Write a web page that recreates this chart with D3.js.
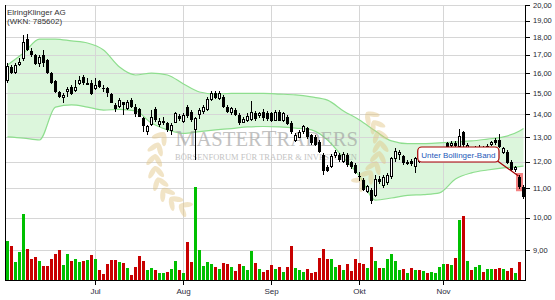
<!DOCTYPE html>
<meta charset="utf-8">
<style>
body { margin: 0; background: #fff; }
svg { display: block; font-family: "Liberation Sans", Arial, sans-serif; }
.grid line { stroke: #d6d6d6; stroke-width: 1px; shape-rendering: crispEdges; }
.frame line { stroke: #000; stroke-width: 1px; shape-rendering: crispEdges; }
.wick { stroke: #000; stroke-width: 1px; shape-rendering: crispEdges; }
.tick-label { font-size: 7.5px; fill: #1e1e2e; }
.month-label { font-size: 8px; fill: #2a2a3a; }
.title { font-size: 8px; fill: #333; }
.mark { font-family: "Liberation Serif", "DejaVu Serif", serif; fill: #9a9a9a; opacity: 0.6; }
</style>
<svg width="555" height="300"></svg>
<script src="https://cdn.jsdelivr.net/npm/d3@7/dist/d3.min.js"></script>
<script>

// daily candles, June - November
var priceOpen = [15.60,16.33,16.01,16.47,16.76,17.88,17.23,16.97,16.50,16.99,
  16.72,16.01,15.62,15.06,14.76,15.06,15.33,15.12,15.46,15.83,
  15.51,15.51,15.20,15.62,15.24,15.24,14.95,14.44,14.36,14.56,
  14.26,14.67,14.36,14.23,13.82,13.20,13.52,14.23,13.52,13.67,
  13.60,13.28,13.63,13.93,13.68,14.36,14.13,13.31,13.96,14.10,
  14.20,14.67,15.00,14.70,14.84,14.36,14.05,14.20,13.98,13.63,
  13.72,13.75,14.05,13.93,14.12,14.07,14.05,13.72,14.12,13.72,
  13.90,13.63,12.85,12.98,13.20,13.39,13.09,13.02,12.81,12.27,
  11.81,11.78,12.21,12.27,12.00,12.27,11.97,11.87,11.44,11.31,
  10.88,10.94,10.74,11.36,11.09,11.19,11.40,12.10,12.26,12.21,
  11.94,12.04,11.81,12.10,12.05,12.15,12.05,12.10,12.10,12.25,
  12.74,12.62,12.74,12.60,13.20,12.55,12.50,12.45,12.50,12.60,
  12.50,12.68,12.88,12.90,12.33,12.40,12.00,11.68,11.43,11.06];

var priceHigh = [16.56,16.45,16.54,16.81,18.12,18.20,17.37,17.04,16.99,17.27,
  16.77,16.08,15.66,15.11,15.00,15.29,15.41,15.66,15.86,15.92,
  15.76,15.66,15.75,15.66,15.41,15.29,15.01,14.52,14.75,14.60,
  14.67,14.76,14.48,14.29,13.90,13.53,14.20,14.33,13.84,13.87,
  13.67,13.60,14.12,14.03,14.07,14.44,14.20,13.90,14.28,14.44,
  14.82,15.09,15.09,15.11,14.92,14.44,14.34,14.28,14.07,13.89,
  14.05,14.64,14.15,14.11,14.25,14.15,14.12,14.20,14.20,14.12,
  13.98,13.70,13.18,13.31,13.53,13.44,13.13,13.09,12.88,12.35,
  11.87,12.31,12.47,12.35,12.39,12.35,12.03,11.95,11.61,11.38,
  11.12,11.01,11.49,11.45,11.49,11.57,12.20,12.55,12.47,12.27,
  12.07,12.11,12.19,12.20,12.25,12.25,12.30,12.30,12.40,12.55,
  12.80,12.85,12.84,13.36,13.25,12.75,12.60,12.65,12.68,12.65,
  12.70,12.84,12.96,13.13,12.60,12.45,12.07,11.84,11.49,11.12];

var priceLow = [15.51,15.97,15.97,16.40,16.68,17.20,16.90,16.45,16.36,16.33,
  15.97,15.46,15.00,14.77,14.51,14.83,14.92,15.06,15.41,15.41,
  15.41,14.92,15.16,15.24,15.08,14.83,14.53,14.12,14.28,13.98,
  14.20,14.28,13.90,13.86,13.24,13.09,13.46,13.68,13.44,13.53,
  13.24,13.09,13.60,13.71,13.62,13.84,13.68,12.07,13.80,14.03,
  14.16,14.64,14.70,14.67,14.30,14.08,13.98,13.91,13.53,13.60,
  13.66,13.71,13.71,13.84,13.71,13.71,13.66,13.71,13.71,13.68,
  13.53,13.13,12.80,12.96,13.13,12.92,12.67,12.63,12.35,11.49,
  11.61,11.76,12.15,12.00,11.95,11.79,11.72,11.53,11.27,10.90,
  10.84,10.45,10.70,11.16,11.01,11.12,11.35,12.00,12.07,11.87,
  11.87,11.82,11.56,11.95,11.98,11.98,12.00,12.02,12.05,12.20,
  12.55,12.55,12.55,12.55,12.60,12.45,12.35,12.38,12.42,12.40,
  12.45,12.62,12.68,12.54,12.30,11.90,11.64,11.61,10.97,10.64];

var priceClose = [16.40,16.01,16.45,16.61,17.73,17.27,16.97,16.49,16.86,16.58,
  16.01,15.52,15.08,14.80,14.91,15.19,14.96,15.33,15.66,15.49,
  15.53,14.96,15.41,15.29,15.22,14.99,14.55,14.24,14.67,14.44,
  14.59,14.36,14.00,13.90,13.46,13.46,13.87,13.75,13.72,13.69,
  13.31,13.53,14.08,13.78,13.98,13.93,13.75,13.82,14.20,14.36,
  14.70,15.00,14.75,15.03,14.36,14.13,14.28,13.98,13.60,13.78,
  13.93,14.12,13.78,14.05,13.83,13.78,13.72,14.12,13.72,14.05,
  13.57,13.20,13.09,13.23,13.46,13.00,12.74,12.67,12.40,11.65,
  11.66,12.23,12.37,12.05,12.31,11.87,11.79,11.58,11.42,10.94,
  11.09,10.57,11.33,11.24,11.43,11.49,12.14,12.41,12.40,11.94,
  12.00,11.91,12.14,12.00,12.15,12.05,12.20,12.20,12.30,12.45,
  12.60,12.76,12.62,13.05,12.67,12.67,12.45,12.55,12.60,12.50,
  12.62,12.78,12.74,12.58,12.53,11.94,11.68,11.78,11.06,10.71];

// volume in thousand shares (last day has none yet)
var volume = [390,340,180,280,660,310,210,230,190,140,
  140,210,260,300,150,260,190,210,180,190,
  200,250,210,100,60,160,200,200,180,170,
  120,50,130,240,190,100,120,100,70,70,
  80,110,190,100,70,380,180,930,300,140,
  180,160,130,110,170,160,130,90,160,140,
  100,290,170,110,80,100,150,110,130,80,
  130,340,120,100,80,110,70,80,220,310,
  210,210,130,150,100,160,90,210,170,160,
  120,330,190,120,120,210,260,190,100,110,
  70,120,100,100,90,70,80,70,130,160,
  160,150,220,600,640,190,100,130,150,80,
  110,110,110,120,110,90,120,70,180];

// bollinger band (20 days) read at every 4th session
var bandIdx = [0,4,8,12,16,20,24,28,32,36,40,44,48,52,56,60,64,68,72,76,80,84,88,92,96,100,104,108,112,116,120,124,128,129];
var bandUpper = [16.45,17.10,17.90,17.90,17.79,17.67,17.27,16.34,15.92,16.02,15.92,15.46,15.06,14.96,14.99,14.99,14.99,14.96,14.92,14.82,14.67,14.16,13.75,13.26,12.84,12.73,12.73,12.76,12.80,12.84,12.92,13.01,13.26,13.37];
var bandLower = [13.01,12.96,12.88,14.34,14.44,14.34,14.20,14.23,14.16,13.61,13.31,13.16,13.24,13.31,13.37,13.44,13.46,13.44,13.39,13.31,12.88,12.15,11.45,10.59,10.66,10.75,10.78,10.84,11.34,11.57,11.68,11.76,11.81,11.83];

var monthIdx = [22, 44, 66, 88, 109];
var monthNames = ["Jul", "Aug", "Sep", "Okt", "Nov"];
var priceTicks = [9, 10, 11, 12, 13, 14, 15, 16, 17, 18, 19, 20];

var signalIdx = 128;
var signalText = "Unter Bollinger-Band";

var svg = d3.select("svg"),
    pLeft = 5, pRight = 525, pTop = 5, pBottom = 280;

var n = priceClose.length;
var x = d3.scaleLinear().domain([0, n - 1]).range([pLeft + 2.5, pRight - 1.5]);
var y = d3.scaleLog().domain([8.16, 20]).range([pBottom, pTop]);
var yVol = d3.scaleLinear().domain([0, 1000]).range([pBottom, pBottom - 100]);

var formatPrice = function(d) { return d3.format(".2f")(d).replace(".", ","); };
var py = function(v) { return Math.round(y(v)) + 0.5; };
var isUp = function(i) { return priceClose[i] >= priceOpen[i]; };

// bollinger fill
var band = bandIdx.map(function(d, i) { return {i: d, u: bandUpper[i], l: bandLower[i]}; });

svg.append("path")
    .datum(band)
    .attr("fill", "#dcf6dc")
    .attr("d", d3.area()
      .curve(d3.curveMonotoneX)
      .x(function(d) { return x(d.i); })
      .y0(function(d) { return y(d.l); })
      .y1(function(d) { return y(d.u); }));

// grid
var grid = svg.append("g").attr("class", "grid");
grid.selectAll(".h")
    .data(priceTicks)
  .enter().append("line")
    .attr("x1", pLeft).attr("x2", pRight)
    .attr("y1", py).attr("y2", py);
grid.selectAll(".v")
    .data(monthIdx)
  .enter().append("line")
    .attr("x1", function(d) { return Math.floor(x(d)) + 0.5; })
    .attr("x2", function(d) { return Math.floor(x(d)) + 0.5; })
    .attr("y1", pTop).attr("y2", pBottom);

// band edges
["u", "l"].forEach(function(k) {
  svg.append("path")
      .datum(band)
      .attr("fill", "none")
      .attr("stroke", "#8ede8e")
      .attr("stroke-width", 1.2)
      .attr("d", d3.line()
        .curve(d3.curveMonotoneX)
        .x(function(d) { return x(d.i); })
        .y(function(d) { return y(d[k]); }));
});

// watermark
function laurel(cx, cy, r, a0, a1, side) {
  var g = svg.append("g").attr("fill", "#e2c483").attr("opacity", 0.45);
  for (var k = 0; k <= 7; k++) {
    var a = (a0 + (a1 - a0) * k / 7) * Math.PI / 180,
        lx = cx + r * Math.cos(a), ly = cy + r * Math.sin(a),
        deg = a * 180 / Math.PI + 90 * side;
    [-35, 35].forEach(function(off) {
      g.append("ellipse")
          .attr("rx", 7).attr("ry", 2.6)
          .attr("transform", "translate(" + lx + "," + ly + ") rotate(" + (deg + off) + ") translate(6,0)");
    });
  }
}
laurel(205, 162, 50, 120, 215, -1);
laurel(335, 145, 45, 50, -45, 1);

var mark = svg.append("text").attr("class", "mark")
    .attr("x", 175).attr("y", 146)
    .attr("textLength", 183).attr("lengthAdjust", "spacingAndGlyphs");
mark.append("tspan").style("font-size", "24px").text("M");
mark.append("tspan").style("font-size", "20.5px").text("ASTER");
mark.append("tspan").style("font-size", "24px").text("T");
mark.append("tspan").style("font-size", "20.5px").text("RADERS");
svg.append("text").attr("class", "mark")
    .attr("x", 175).attr("y", 160)
    .style("font-size", "8.5px")
    .attr("textLength", 182).attr("lengthAdjust", "spacingAndGlyphs")
    .text("BÖRSENFORUM FÜR TRADER & INVESTOREN");

// volume
svg.selectAll(".vol")
    .data(volume)
  .enter().append("rect")
    .attr("x", function(d, i) { return x(i) - 1.5; })
    .attr("y", function(d) { return Math.round(yVol(d)); })
    .attr("width", 3)
    .attr("height", function(d) { return pBottom - Math.round(yVol(d)); })
    .attr("fill", function(d, i) { return isUp(i) ? "#00c000" : "#c80000"; });

// signal highlight
svg.append("rect")
    .attr("x", x(signalIdx) - 3.5)
    .attr("y", y(priceHigh[signalIdx]) - 2)
    .attr("width", 7)
    .attr("height", y(priceLow[signalIdx]) - y(priceHigh[signalIdx]) + 4)
    .attr("fill", "#f05a5a")
    .attr("opacity", 0.75);

// candles
var c = svg.selectAll(".candle")
    .data(priceClose)
  .enter().append("g");

c.append("line")
    .attr("class", "wick")
    .attr("x1", function(d, i) { return x(i); })
    .attr("x2", function(d, i) { return x(i); })
    .attr("y1", function(d, i) { return Math.round(y(priceHigh[i])); })
    .attr("y2", function(d, i) { return Math.round(y(priceLow[i])); });

c.append("rect")
    .attr("x", function(d, i) { return isUp(i) ? x(i) - 1 : x(i) - 1.5; })
    .attr("y", function(d, i) {
      var t = Math.round(y(Math.max(d, priceOpen[i])));
      return isUp(i) ? t + 0.5 : t;
    })
    .attr("width", function(d, i) { return isUp(i) ? 2 : 3; })
    .attr("height", function(d, i) {
      var h = Math.round(y(Math.min(d, priceOpen[i]))) - Math.round(y(Math.max(d, priceOpen[i])));
      return isUp(i) ? Math.max(h - 1, 1) : Math.max(h, 1);
    })
    .attr("fill", function(d, i) { return isUp(i) ? "#fff" : "#000"; })
    .attr("stroke", function(d, i) { return isUp(i) ? "#000" : "none"; })
    .attr("shape-rendering", "crispEdges");

// frame and axes
var frame = svg.append("g").attr("class", "frame");
frame.append("line").attr("x1", pLeft + 0.5).attr("x2", pLeft + 0.5).attr("y1", pTop).attr("y2", pBottom + 1);
frame.append("line").attr("x1", pRight + 0.5).attr("x2", pRight + 0.5).attr("y1", pTop).attr("y2", pBottom + 1);
frame.append("line").attr("x1", pLeft).attr("x2", pRight + 1).attr("y1", pBottom + 0.5).attr("y2", pBottom + 0.5);

frame.selectAll(".ty")
    .data(priceTicks)
  .enter().append("line")
    .attr("x1", pRight).attr("x2", pRight + 5)
    .attr("y1", py).attr("y2", py);

svg.selectAll(".tick-label")
    .data(priceTicks)
  .enter().append("text")
    .attr("class", "tick-label")
    .attr("x", pRight + 8)
    .attr("y", function(d) { return y(d); })
    .attr("dy", "0.35em")
    .text(formatPrice);

frame.selectAll(".tx")
    .data(monthIdx)
  .enter().append("line")
    .attr("x1", function(d) { return Math.floor(x(d)) + 0.5; })
    .attr("x2", function(d) { return Math.floor(x(d)) + 0.5; })
    .attr("y1", pBottom).attr("y2", pBottom + 5);

svg.selectAll(".month-label")
    .data(monthIdx)
  .enter().append("text")
    .attr("class", "month-label")
    .attr("x", function(d) { return x(d); })
    .attr("y", 294)
    .attr("text-anchor", "middle")
    .text(function(d, i) { return monthNames[i]; });

// title
svg.append("text").attr("class", "title").attr("x", 7).attr("y", 15).text("ElringKlinger AG");
svg.append("text").attr("class", "title").attr("x", 7).attr("y", 24).text("(WKN: 785602)");

// annotation box
var sx = x(signalIdx), sy = y(priceHigh[signalIdx]);
svg.append("line")
    .attr("x1", sx - 22).attr("y1", sy - 14)
    .attr("x2", sx - 1).attr("y2", sy + 1)
    .attr("stroke", "#a00000")
    .attr("stroke-width", 1.2);

var label = svg.append("g");
var box = label.append("rect")
    .attr("rx", 4).attr("ry", 4)
    .attr("fill", "#fff")
    .attr("stroke", "#a80000")
    .attr("stroke-width", 1.2);
var lt = label.append("text")
    .attr("font-size", "8px")
    .attr("fill", "#2458b8")
    .attr("text-anchor", "middle")
    .text(signalText);
var w = lt.node().getComputedTextLength() + 7;
box.attr("x", sx - 20.5 - w).attr("y", sy - 28).attr("width", w).attr("height", 15);
lt.attr("x", sx - 20.5 - w / 2).attr("y", sy - 17.5);

</script>
